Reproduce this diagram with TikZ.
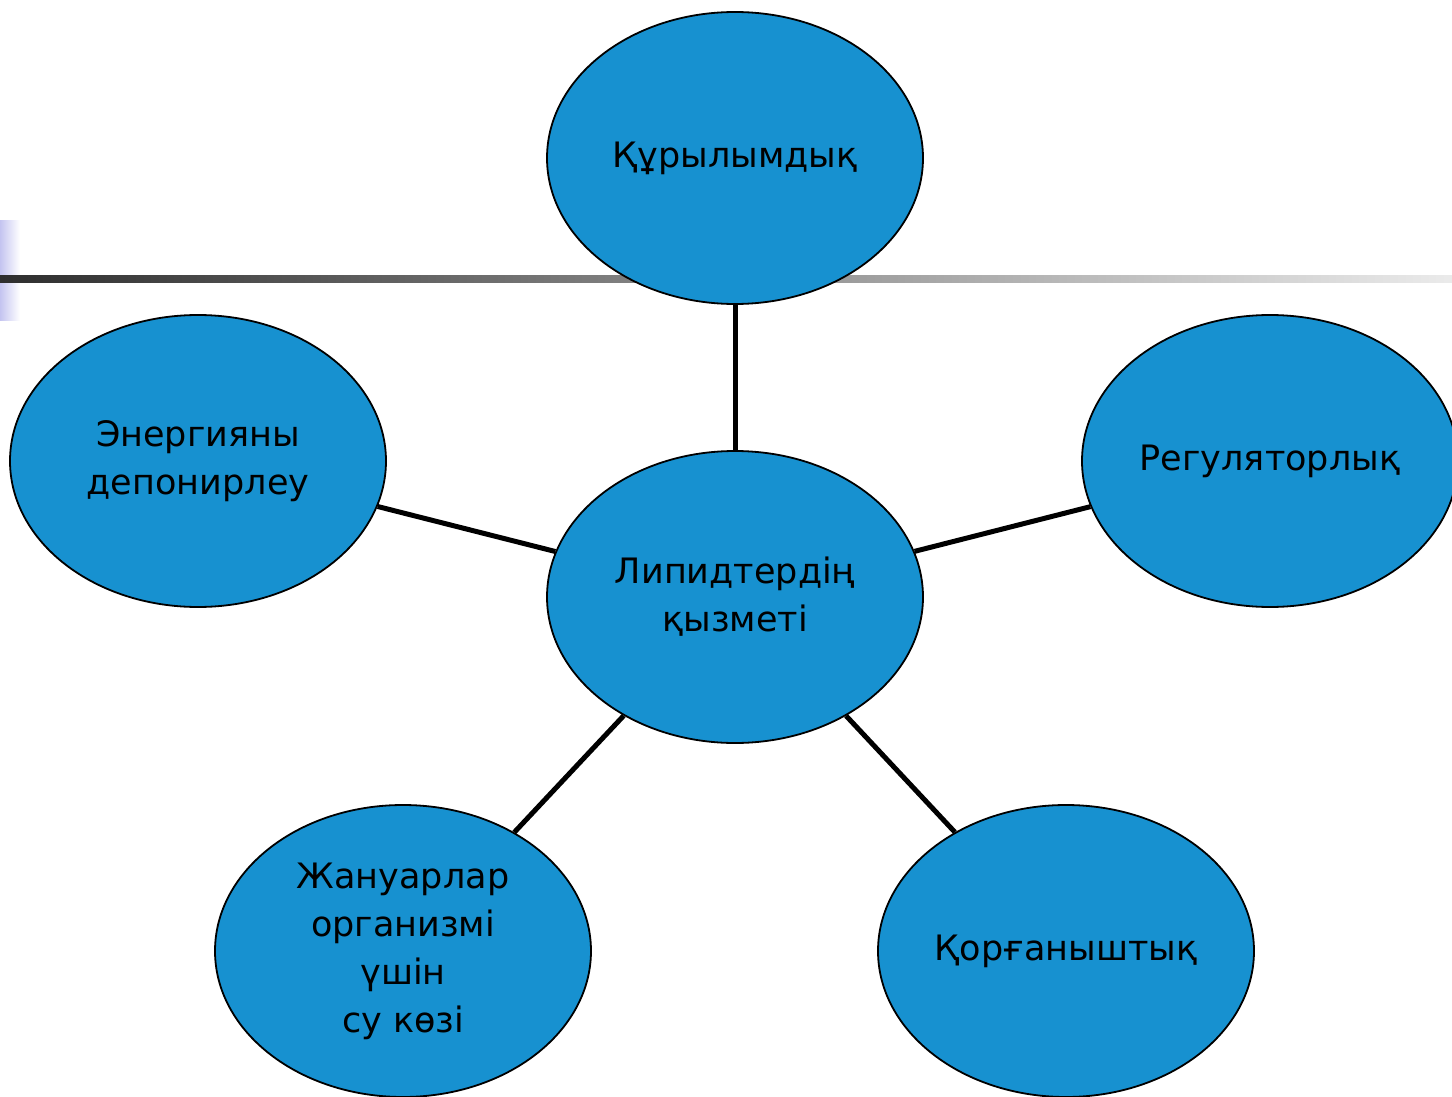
\documentclass[tikz,border=0pt]{standalone}
\usepackage{fontspec}
\setmainfont{DejaVu Sans}
\usepackage{xcolor}
\usetikzlibrary{shapes.geometric}
\definecolor{lipblue}{RGB}{23,145,208}
\definecolor{barlav}{RGB}{196,196,240}

\begin{document}
\begin{tikzpicture}[x=1pt,y=1pt,yscale=-0.5,xscale=0.5,
    fn/.style={ellipse, draw, line width=0.9pt, fill=lipblue, minimum width=188pt, minimum height=146pt, inner sep=0pt, align=center, font=\fontsize{17.5}{24}\selectfont},
    link/.style={line width=2.5pt}]

    \useasboundingbox (0,0) rectangle (1452,1097);

    % slide decoration
    \fill [left color=barlav, right color=white] (0,220) rectangle (20,320);
    \fill [left color=black!82, right color=black!8] (0,275) rectangle (1452,282);

    \draw (735,597)  node [fn] (lip) {Липидтердің\\қызметі};
    \draw (735,158)  node [fn] (qur) {Құрылымдық};
    \draw (1270,461) node [fn] (reg) {Регуляторлық};
    \draw (1066,951) node [fn] (qor) {Қорғаныштық};
    \draw (403,951)  node [fn] (zhan) {Жануарлар\\организмі\\үшін\\су көзі};
    \draw (198,461)  node [fn] (en) {Энергияны\\депонирлеу};
    \draw [link] (lip) -- (qur);
    \draw [link] (lip) -- (reg);
    \draw [link] (lip) -- (qor);
    \draw [link] (lip) -- (zhan);
    \draw [link] (lip) -- (en);

\end{tikzpicture}
\end{document}
